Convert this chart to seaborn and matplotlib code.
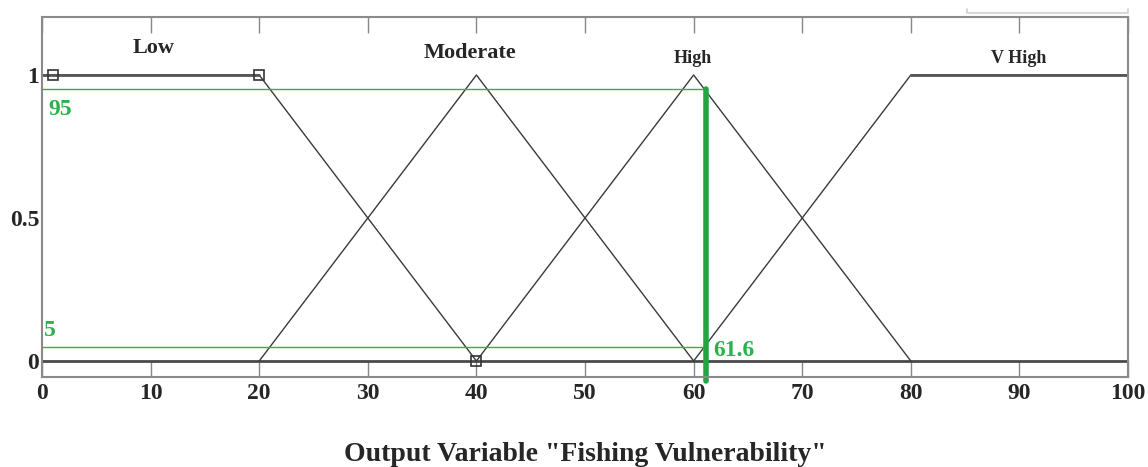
import pandas as pd
import matplotlib.pyplot as plt
import seaborn as sns

# membership functions (x, y)
low_x = [0, 20, 40]
low_y = [1, 1, 0]
mod_x = [20, 40, 60]
mod_y = [0, 1, 0]
high_x = [40, 60, 80]
high_y = [0, 1, 0]
vhigh_x = [60, 80, 100]
vhigh_y = [0, 1, 1]

# selected points (squares)
pts_x = [1, 20, 40]
pts_y = [1, 1, 0]

# crisp output
out_x = 61.1
out_label = "61.6"
cut_hi = 0.95
cut_lo = 0.05

xticks = list(range(0, 101, 10))
yticks = [0, 0.5, 1]
ytick_labels = ["0", "0.5", "1"]

sns.set_style("white")
plt.rcParams['font.family'] = ['Liberation Serif', 'DejaVu Serif']
plt.rcParams['font.weight'] = 'bold'

fig = plt.figure(figsize=(11.48, 4.67), dpi=100)
ax = fig.add_axes([0.0366, 0.1927, 0.946, 0.771])

dark = "#3a3a3a"
green = "#2bb24c"

# zero line
sns.lineplot(x=[0, 100], y=[0, 0], color="#4a4a4a", linewidth=2, ax=ax)

mfs = [(low_x, low_y), (mod_x, mod_y), (high_x, high_y), (vhigh_x, vhigh_y)]
for mx, my in mfs:
    sns.lineplot(x=mx, y=my, color=dark, linewidth=1, sort=False, estimator=None, ax=ax)
# thicker plateaus
sns.lineplot(x=low_x[:2], y=low_y[:2], color="#555555", linewidth=2, ax=ax)
sns.lineplot(x=vhigh_x[1:], y=vhigh_y[1:], color="#555555", linewidth=2, ax=ax)

ax.plot(pts_x, pts_y, linestyle="none", marker="s", markersize=7,
        markerfacecolor="none", markeredgecolor="#333333", markeredgewidth=1.2)

# green cut lines
ax.plot([0, out_x], [cut_hi, cut_hi], color=green, linewidth=1)
ax.plot([0, out_x], [cut_lo, cut_lo], color=green, linewidth=1)
ax.plot([out_x, out_x], [cut_hi, -0.07], color="#1fa83f", linewidth=4, clip_on=False)

ax.text(0.6, 0.915, "95", color=green, fontsize=17, ha="left", va="top")
ax.text(0.2, 0.07, "5", color=green, fontsize=17, ha="left", va="bottom")
ax.text(out_x + 0.7, 0.0, out_label, color=green, fontsize=17, ha="left", va="bottom")

# MF names
ax.text(10.3, 1.094, "Low", fontsize=16, ha="center", va="center")
ax.text(39.4, 1.077, "Moderate", fontsize=16, ha="center", va="center")
ax.text(59.9, 1.058, "High", fontsize=13, ha="center", va="center")
ax.text(89.9, 1.058, "V High", fontsize=13, ha="center", va="center")

ax.set_xlim(0, 100)
ax.set_ylim(-0.056, 1.203)
ax.set_xticks(xticks)
ax.set_yticks(yticks)
ax.set_yticklabels(ytick_labels)
ax.tick_params(axis="x", direction="in", length=11.5, width=1, color="#888888",
               top=True, bottom=True, labelsize=17, pad=4)
ax.tick_params(axis="y", length=0, labelsize=17, pad=2)
for s in ax.spines.values():
    s.set_color("#8a8a8a")
    s.set_linewidth(1.5)
ax.set_xlabel('Output Variable "Fishing Vulnerability"', fontsize=20, fontweight="bold", labelpad=28)
ax.set_ylabel("")

# small grey bracket remnant at the top right
fig.add_artist(plt.Line2D([967 / 1148, 967 / 1148, 1128 / 1148, 1128 / 1148],
                          [1 - 9 / 467, 1 - 13 / 467, 1 - 13 / 467, 1 - 9 / 467],
                          color="#d0d0d0", linewidth=1.2))

fig.savefig("out.png", dpi=100)
